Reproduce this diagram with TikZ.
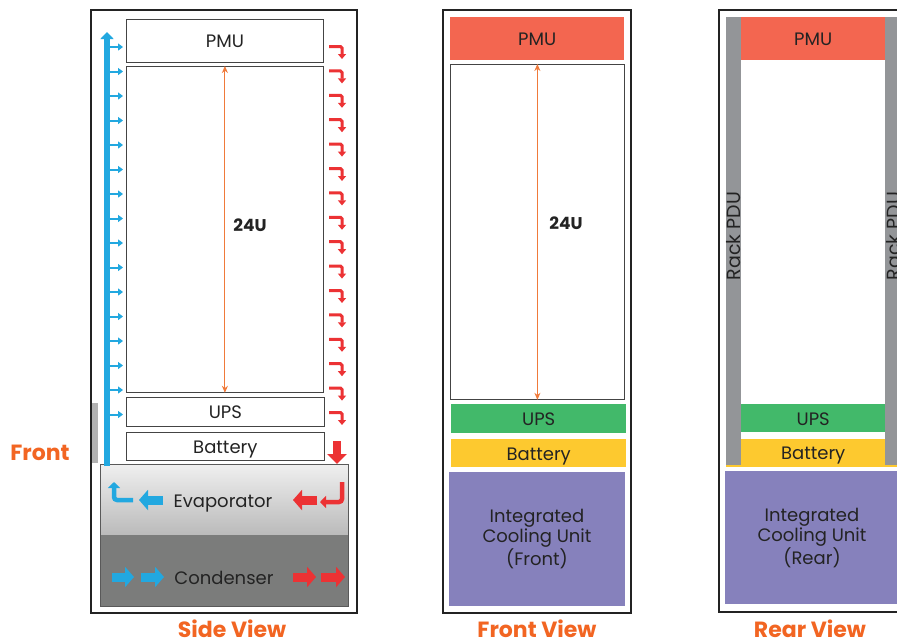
\documentclass[tikz,border=0pt]{standalone}
\usepackage{fontspec}
\setmainfont{Poppins}
\usetikzlibrary{arrows.meta}
\definecolor{airblue}{HTML}{22A8E0}
\definecolor{airred}{HTML}{EC3234}
\definecolor{lblorange}{HTML}{F26522}
\definecolor{arrorange}{HTML}{F07A3A}
\definecolor{pmured}{HTML}{F36650}
\definecolor{upsgreen}{HTML}{42B96A}
\definecolor{batyellow}{HTML}{FDC92F}
\definecolor{icupurple}{HTML}{8681BC}
\definecolor{pdugrey}{HTML}{939598}
\definecolor{condgrey}{HTML}{7B7C7B}
\definecolor{txtdark}{HTML}{232323}
\begin{document}
\begin{tikzpicture}[x=1pt,y=-1pt,
  outer/.style={draw=txtdark,line width=2pt},
  unitbox/.style={draw=txtdark!85,line width=0.8pt,fill=white,inner sep=0pt,anchor=north west,font=\fontsize{18}{20}\selectfont,text=txtdark,text height=15pt,text depth=1pt},
  blockbox/.style={inner sep=0pt,anchor=north west,font=\fontsize{18}{20}\selectfont,text=txtdark},
  slab/.style={blockbox,text height=15pt,text depth=1pt},
  viewlabel/.style={inner sep=0pt,font=\bfseries\fontsize{22}{26}\selectfont,text=lblorange},
  ulabel/.style={font=\bfseries\fontsize{17}{20}\selectfont,text=txtdark},
  uarrow/.style={draw=arrorange,line width=1pt,{Stealth[length=7pt,width=6pt]}-{Stealth[length=7pt,width=6pt]}},
  tick/.style={draw=airblue,line width=2pt,-{Triangle[length=5pt,width=7pt]}},
  hook/.style={draw=airred,line width=3pt,rounded corners=1.5pt,-{Triangle[length=5pt,width=8pt]}},
  fatblue/.style={draw=airblue,line width=9pt,-{Triangle[length=9pt,width=20pt]}},
  fatred/.style={draw=airred,line width=9pt,-{Triangle[length=9pt,width=20pt]}},
  hookfat/.style={line width=4.5pt,rounded corners=3pt,-{Triangle[length=6pt,width=12pt]}}
]
\useasboundingbox (0,0) rectangle (897,643);
\fill[white] (0,0) rectangle (897,643);

% ================= Side view =================
\fill[black!30] (92,403) rectangle (98,463);
\draw[outer] (91,10) rectangle (357,613);
\node[unitbox,minimum width=197pt,minimum height=43pt] (pmuS) at (126,19) {PMU};
\node[unitbox,minimum width=197pt,minimum height=326pt] (u24S) at (126,66) {};
\node[unitbox,minimum width=198pt,minimum height=29pt] (upsS) at (126,397) {UPS};
\node[unitbox,minimum width=198pt,minimum height=28pt] (batS) at (126,432) {Battery};
\shade[top color=black!6,bottom color=black!27] (100,464) rectangle (348,535);
\fill[condgrey] (100,535) rectangle (348,606);
\draw[black!65,line width=0.8pt] (100,464) rectangle (348,606);
\node[slab,anchor=center] (evap) at (223,500) {Evaporator};
\node[slab,anchor=center] (cond) at (224,577) {Condenser};
\draw[uarrow] (u24S.north) -- (u24S.south);
\node[ulabel] (l24S) at (250,225) {24U};

% cold air column
\coordinate (bluebot) at (107,466);
\coordinate (bluetop) at (107,32);
\draw[draw=airblue,line width=5.5pt,-{Triangle[length=7pt,width=13pt]}] (bluebot) -- (bluetop);
\foreach \i in {0,...,15}{
  \coordinate (bt\i) at (109,{47+24.5*\i});
  \coordinate (bh\i) at (123,{47+24.5*\i});
  \draw[tick] (bt\i) -- (bh\i);
}
% hot air hooks
\foreach \i in {0,...,15}{
  \coordinate (ra\i) at (329,{46.5+24.4*\i});
  \coordinate (rb\i) at (342,{46.5+24.4*\i});
  \coordinate (rc\i) at (342,{59+24.4*\i});
  \draw[hook] (ra\i) -- (rb\i) -- (rc\i);
}
\coordinate (rd1) at (337,441);
\coordinate (rd2) at (337,464);
\draw[draw=airred,line width=8pt,-{Triangle[length=10pt,width=19pt]}] (rd1) -- (rd2);

% evaporator flows
\coordinate (eb1) at (133,500);
\coordinate (eb2) at (114,500);
\coordinate (eb3) at (114,482);
\draw[hookfat,draw=airblue] (eb1) -- (eb2) -- (eb3);
\coordinate (ef1) at (163,500);
\coordinate (ef2) at (139,500);
\draw[fatblue] (ef1) -- (ef2);
\coordinate (er1) at (317,500);
\coordinate (er2) at (293,500);
\draw[fatred] (er1) -- (er2);
\coordinate (eh1) at (342,482);
\coordinate (eh2) at (342,502);
\coordinate (eh3) at (320,502);
\draw[hookfat,draw=airred] (eh1) -- (eh2) -- (eh3);

% condenser flows
\coordinate (c1a) at (112,577); \coordinate (c1b) at (134,577);
\coordinate (c2a) at (141,577); \coordinate (c2b) at (164,577);
\coordinate (c3a) at (293,577); \coordinate (c3b) at (316,577);
\coordinate (c4a) at (321,577); \coordinate (c4b) at (345,577);
\draw[fatblue] (c1a) -- (c1b);
\draw[fatblue] (c2a) -- (c2b);
\draw[fatred] (c3a) -- (c3b);
\draw[fatred] (c4a) -- (c4b);

\node[viewlabel] (frontlbl) at (40,453) {Front};
\node[viewlabel] (sidelbl) at (232,629) {Side View};

% ================= Front view =================
\draw[outer] (443,10) rectangle (631,613);
\node[slab,fill=pmured,minimum width=174pt,minimum height=43pt] (pmuF) at (450,17) {PMU};
\node[unitbox,minimum width=174pt,minimum height=335pt] (u24F) at (450,64) {};
\node[slab,fill=upsgreen,minimum width=175pt,minimum height=29pt] (upsF) at (451,404) {UPS};
\node[slab,fill=batyellow,minimum width=175pt,minimum height=28pt] (batF) at (451,439) {Battery};
\node[blockbox,fill=icupurple,minimum width=176pt,minimum height=134pt] (icuF) at (449,472) {};
\node[blockbox,align=center,anchor=center] (icuFt) at (537,539) {Integrated\\Cooling Unit\\(Front)};
\draw[uarrow] (u24F.north) -- (u24F.south);
\node[ulabel] (l24F) at (566,223) {24U};
\node[viewlabel] (frontviewlbl) at (537,629) {Front View};

% ================= Rear view =================
\draw[outer] (719,10) rectangle (910,612);
\node[blockbox,fill=pdugrey,minimum width=15pt,minimum height=449pt] (pduL) at (726,17) {};
\node[blockbox,fill=pdugrey,minimum width=20pt,minimum height=449pt] (pduR) at (885,17) {};
\node[blockbox,anchor=center,rotate=90,font=\fontsize{19}{20}\selectfont] (pduLt) at (734,236) {Rack PDU};
\node[blockbox,anchor=center,rotate=90,font=\fontsize{19}{20}\selectfont] (pduRt) at (894,236) {Rack PDU};
\node[slab,fill=pmured,minimum width=144pt,minimum height=43pt] (pmuR) at (741,17) {PMU};
\node[slab,fill=upsgreen,minimum width=144pt,minimum height=28pt] (upsR) at (741,404) {UPS};
\node[slab,fill=batyellow,minimum width=144pt,minimum height=27pt] (batR) at (741,439) {Battery};
\fill[batyellow] (726,465) rectangle (897,467);
\node[blockbox,fill=icupurple,minimum width=185pt,minimum height=133pt] (icuR) at (725,471) {};
\node[blockbox,align=center,anchor=center] (icuRt) at (812,538) {Integrated\\Cooling Unit\\(Rear)};
\node[viewlabel] (rearviewlbl) at (810,629) {Rear View};
\end{tikzpicture}
\end{document}
